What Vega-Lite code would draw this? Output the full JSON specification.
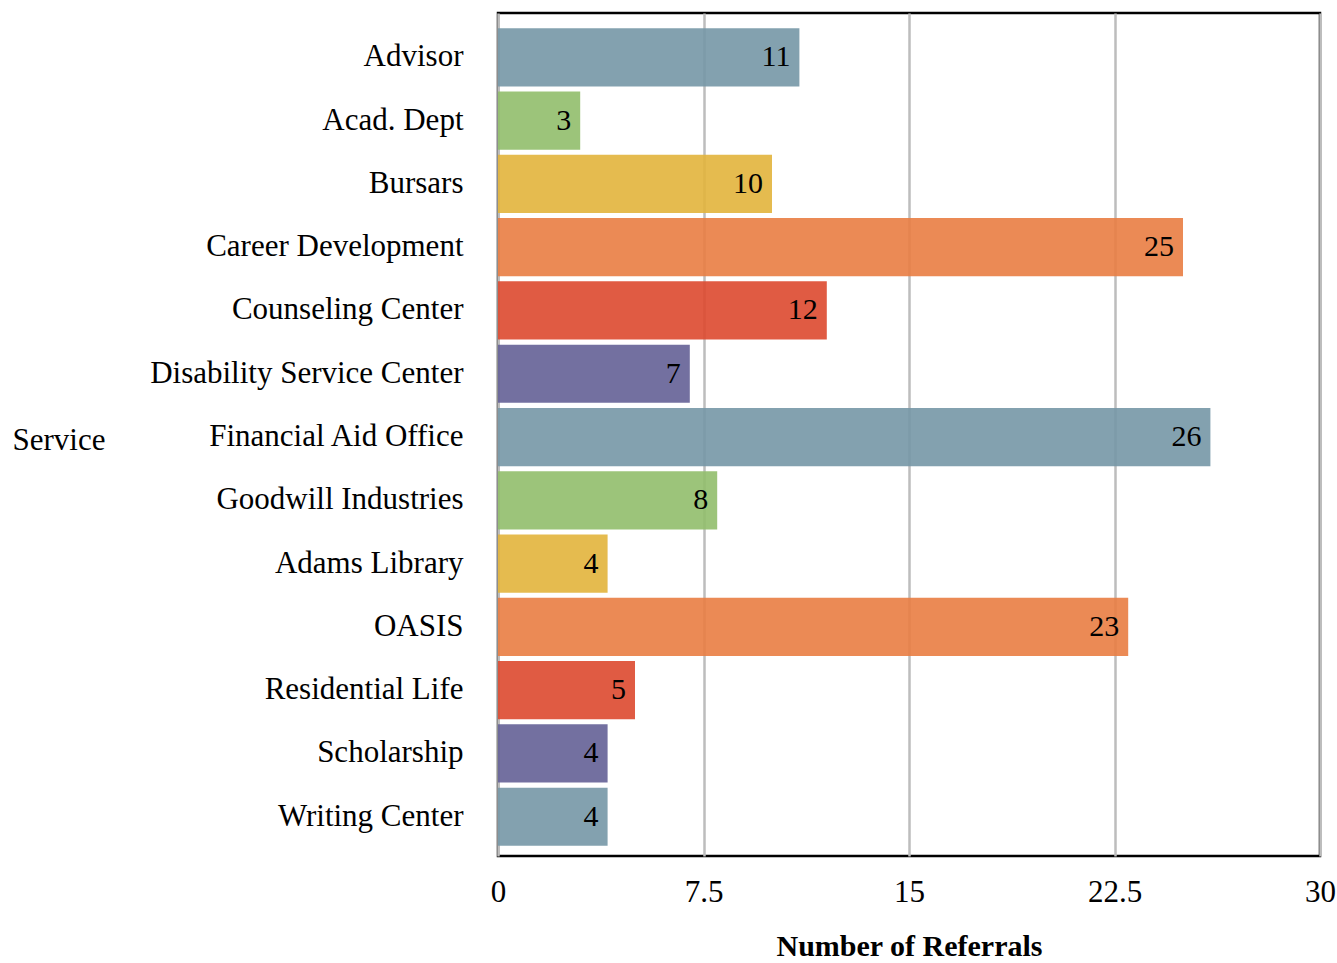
{
  "$schema": "https://vega.github.io/schema/vega-lite/v6.json",
  "width": 822,
  "height": 843,
  "autosize": {"type": "none"},
  "padding": {"left": 498, "top": 13, "right": 17, "bottom": 107},
  "background": "white",
  "config": {
    "font": "Liberation Serif",
    "view": {"stroke": "black", "strokeWidth": 2.5}
  },
  "data": {
    "values": [
      {"Service": "Advisor", "Referrals": 11},
      {"Service": "Acad. Dept", "Referrals": 3},
      {"Service": "Bursars", "Referrals": 10},
      {"Service": "Career Development", "Referrals": 25},
      {"Service": "Counseling Center", "Referrals": 12},
      {"Service": "Disability Service Center", "Referrals": 7},
      {"Service": "Financial Aid Office", "Referrals": 26},
      {"Service": "Goodwill Industries", "Referrals": 8},
      {"Service": "Adams Library", "Referrals": 4},
      {"Service": "OASIS", "Referrals": 23},
      {"Service": "Residential Life", "Referrals": 5},
      {"Service": "Scholarship", "Referrals": 4},
      {"Service": "Writing Center", "Referrals": 4}
    ]
  },
  "encoding": {
    "y": {
      "field": "Service",
      "type": "nominal",
      "sort": null,
      "scale": {"paddingInner": 0.08, "paddingOuter": 0.2, "align": 0.6},
      "axis": {
        "title": "Service",
        "titleAngle": 0,
        "titleAlign": "left",
        "titleBaseline": "middle",
        "titleX": -486,
        "titleY": 427,
        "titleFont": "Liberation Serif",
        "titleFontWeight": "normal",
        "titleFontSize": 31,
        "titleColor": "black",
        "labelFontSize": 31,
        "labelColor": "black",
        "labelPadding": 35,
        "labelLimit": 500,
        "ticks": false,
        "domain": false
      }
    },
    "x": {
      "field": "Referrals",
      "type": "quantitative",
      "scale": {"domain": [0, 30], "nice": false},
      "axis": {
        "values": [0, 7.5, 15, 22.5, 30],
        "format": ".1~f",
        "title": "Number of Referrals",
        "titleFontSize": 30,
        "titleFontWeight": "bold",
        "titleColor": "black",
        "titlePadding": 24,
        "labelFontSize": 31,
        "labelColor": "black",
        "labelPadding": 21,
        "labelFlush": false,
        "ticks": false,
        "domain": false,
        "grid": true,
        "gridColor": "#bdbdbd",
        "gridWidth": 2.5
      }
    }
  },
  "layer": [
    {
      "mark": {"type": "bar", "opacity": 0.9},
      "encoding": {
        "color": {
          "field": "Service",
          "type": "nominal",
          "legend": null,
          "scale": {
            "domain": ["Advisor", "Acad. Dept", "Bursars", "Career Development", "Counseling Center", "Disability Service Center", "Financial Aid Office", "Goodwill Industries", "Adams Library", "OASIS", "Residential Life", "Scholarship", "Writing Center"],
            "range": ["#7597a6", "#91be6c", "#e2b43c", "#e97d42", "#dd492f", "#646096", "#7597a6", "#91be6c", "#e2b43c", "#e97d42", "#dd492f", "#646096", "#7597a6"]
          }
        }
      }
    },
    {
      "mark": {"type": "text", "align": "right", "baseline": "middle", "dx": -9, "fontSize": 30, "color": "black"},
      "encoding": {"text": {"field": "Referrals", "type": "quantitative"}}
    }
  ]
}
